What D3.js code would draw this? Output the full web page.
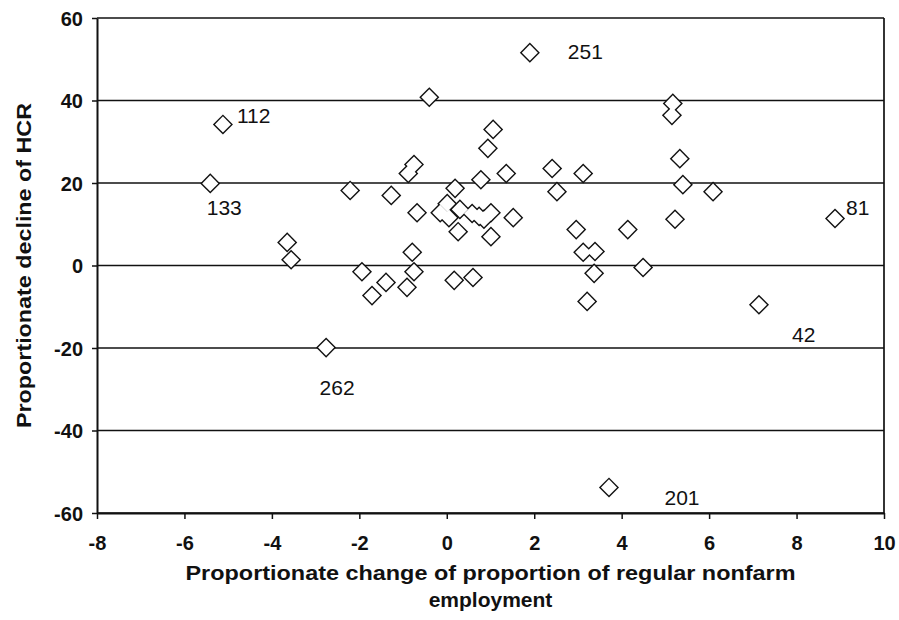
<!DOCTYPE html>
<html>
<head>
<meta charset="utf-8">
<script src="https://cdn.jsdelivr.net/npm/d3@7"></script>
<style>
  body { margin: 0; background: #fff; }
  text { font-family: "Liberation Sans", Arial, sans-serif; fill: #111; }
</style>
</head>
<body>
<svg id="chart" width="899" height="620"></svg>
<script>
// change of proportion of regular nonfarm employment (x) vs decline of HCR (y)
const xValues = [1.90, -0.40, -5.12, -5.41, -3.65, -3.56, -2.76, -2.21, -1.94, -1.27,
  -1.39, -1.71, -0.91, -0.75, -0.79, -0.68, -0.88, -0.75, 1.06, 0.94,
  0.78, 1.36, 2.41, 3.12, 2.52, 0.19, 1.52, 2.96, 4.14, 0.26,
  1.01, 3.12, 3.39, 3.37, 3.21, 0.17, 0.60, 4.49, 5.17, 5.15,
  5.33, 5.40, 6.09, 5.22, 7.14, 8.88, 3.71,
  0.01, -0.15, 0.30, 0.05, 0.58, 1.01, 0.85, 0.74];
const yValues = [51.6, 40.8, 34.2, 19.9, 5.6, 1.4, -19.9, 18.2, -1.5, 17.0,
  -4.1, -7.3, -5.3, -1.5, 3.2, 12.8, 22.3, 24.5, 33.0, 28.4,
  20.8, 22.3, 23.5, 22.3, 17.9, 18.7, 11.6, 8.7, 8.7, 8.2,
  7.0, 3.2, 3.4, -1.9, -8.7, -3.6, -2.9, -0.5, 39.3, 36.4,
  25.9, 19.6, 17.9, 11.2, -9.5, 11.4, -53.8,
  15.0, 12.8, 13.6, 11.6, 12.6, 12.8, 11.2, 11.9];
// district ids shown next to some points ("" = no label)
const pointLabels = ["251", "", "112", "133", "", "", "262", "", "", "",
  "", "", "", "", "", "", "", "", "", "",
  "", "", "", "", "", "", "", "", "", "",
  "", "", "", "", "", "", "", "", "", "",
  "", "", "", "", "42", "81", "201",
  "", "", "", "", "", "", "", ""];
const xTicks = [-8, -6, -4, -2, 0, 2, 4, 6, 8, 10];
const yTicks = [-60, -40, -20, 0, 20, 40, 60];
const xTitleLines = ["Proportionate change of proportion of regular nonfarm", "employment"];
const yTitle = "Proportionate decline of HCR";

const points = xValues.map((x, i) => ({ x: x, y: yValues[i], label: pointLabels[i] }));

const svg = d3.select('#chart');
const plotLeft = 97, plotRight = 884, plotTop = 18, plotBottom = 513;

const x = d3.scaleLinear().domain([-8, 10]).range([plotLeft, plotRight]);
const y = d3.scaleLinear().domain([-60, 60]).range([plotBottom, plotTop]);

svg.append('rect').attr('width', 899).attr('height', 620).attr('fill', '#fff');

// horizontal gridlines
svg.append('g')
  .selectAll('line')
  .data(yTicks)
  .join('line')
    .attr('x1', plotLeft).attr('x2', plotRight)
    .attr('y1', d => y(d)).attr('y2', d => y(d))
    .attr('stroke', '#111')
    .attr('stroke-width', 1.7);

// right border
svg.append('line')
  .attr('x1', plotRight).attr('x2', plotRight)
  .attr('y1', plotTop).attr('y2', plotBottom)
  .attr('stroke', '#111').attr('stroke-width', 1.7);

// axes (plain hyphen for negatives, like the original)
const plainFormat = d => String(d);
const yAxis = svg.append('g')
  .attr('transform', `translate(${plotLeft},0)`)
  .call(d3.axisLeft(y).tickValues(yTicks).tickFormat(plainFormat)
    .tickSize(5).tickPadding(9).tickSizeOuter(0));
const xAxis = svg.append('g')
  .attr('transform', `translate(0,${plotBottom})`)
  .call(d3.axisBottom(x).tickValues(xTicks).tickFormat(plainFormat)
    .tickSize(6).tickPadding(17).tickSizeOuter(0));

[xAxis, yAxis].forEach(ax => {
  ax.select('.domain').attr('stroke', '#111').attr('stroke-width', 2);
  ax.selectAll('.tick line').attr('stroke', '#111').attr('stroke-width', 1.5);
  ax.selectAll('.tick text')
    .attr('fill', '#111')
    .style('font-family', '"Liberation Sans", Arial, sans-serif')
    .style('font-size', '20px')
    .style('font-weight', 'bold');
});
yAxis.selectAll('.tick text').attr('dy', '0.36em');

// diamonds: black underlay then white top, so overlapping markers merge
const diamond = d3.symbol().type(d3.symbolSquare);
const marks = svg.append('g');
marks.selectAll('path.outer')
  .data(points)
  .join('path')
    .attr('class', 'outer')
    .attr('d', diamond.size(14.2 * 14.2)())
    .attr('transform', d => `translate(${x(d.x)},${y(d.y)}) rotate(45)`)
    .attr('fill', '#111');
marks.selectAll('path.inner')
  .data(points)
  .join('path')
    .attr('class', 'inner')
    .attr('d', diamond.size(11.4 * 11.4)())
    .attr('transform', d => `translate(${x(d.x)},${y(d.y)}) rotate(45)`)
    .attr('fill', '#fff');

// point labels, placed around their marker
const labelOffset = {
  '251': { dx: 38, dy: 6, anchor: 'start' },
  '112': { dx: 14, dy: -1, anchor: 'start' },
  '133': { dx: 14, dy: 32, anchor: 'middle' },
  '262': { dx: 11, dy: 47, anchor: 'middle' },
  '81': { dx: 11, dy: -3, anchor: 'start' },
  '42': { dx: 33, dy: 37, anchor: 'start' },
  '201': { dx: 73, dy: 18, anchor: 'middle' }
};
svg.append('g')
  .selectAll('text')
  .data(points.filter(d => d.label))
  .join('text')
    .attr('x', d => x(d.x) + labelOffset[d.label].dx)
    .attr('y', d => y(d.y) + labelOffset[d.label].dy)
    .attr('text-anchor', d => labelOffset[d.label].anchor)
    .style('font-size', '21px')
    .text(d => d.label);

// axis titles
const midX = (plotLeft + plotRight) / 2;
svg.append('text')
  .attr('x', midX).attr('y', 580)
  .attr('text-anchor', 'middle')
  .attr('textLength', 610).attr('lengthAdjust', 'spacingAndGlyphs')
  .style('font-size', '21px').style('font-weight', 'bold')
  .text(xTitleLines[0]);
svg.append('text')
  .attr('x', midX).attr('y', 607)
  .attr('text-anchor', 'middle')
  .style('font-size', '21px').style('font-weight', 'bold')
  .text(xTitleLines[1]);

svg.append('text')
  .attr('transform', `translate(31,${(plotTop + plotBottom) / 2}) rotate(-90)`)
  .attr('text-anchor', 'middle')
  .attr('textLength', 325).attr('lengthAdjust', 'spacingAndGlyphs')
  .style('font-size', '21px').style('font-weight', 'bold')
  .text(yTitle);
</script>
</body>
</html>
